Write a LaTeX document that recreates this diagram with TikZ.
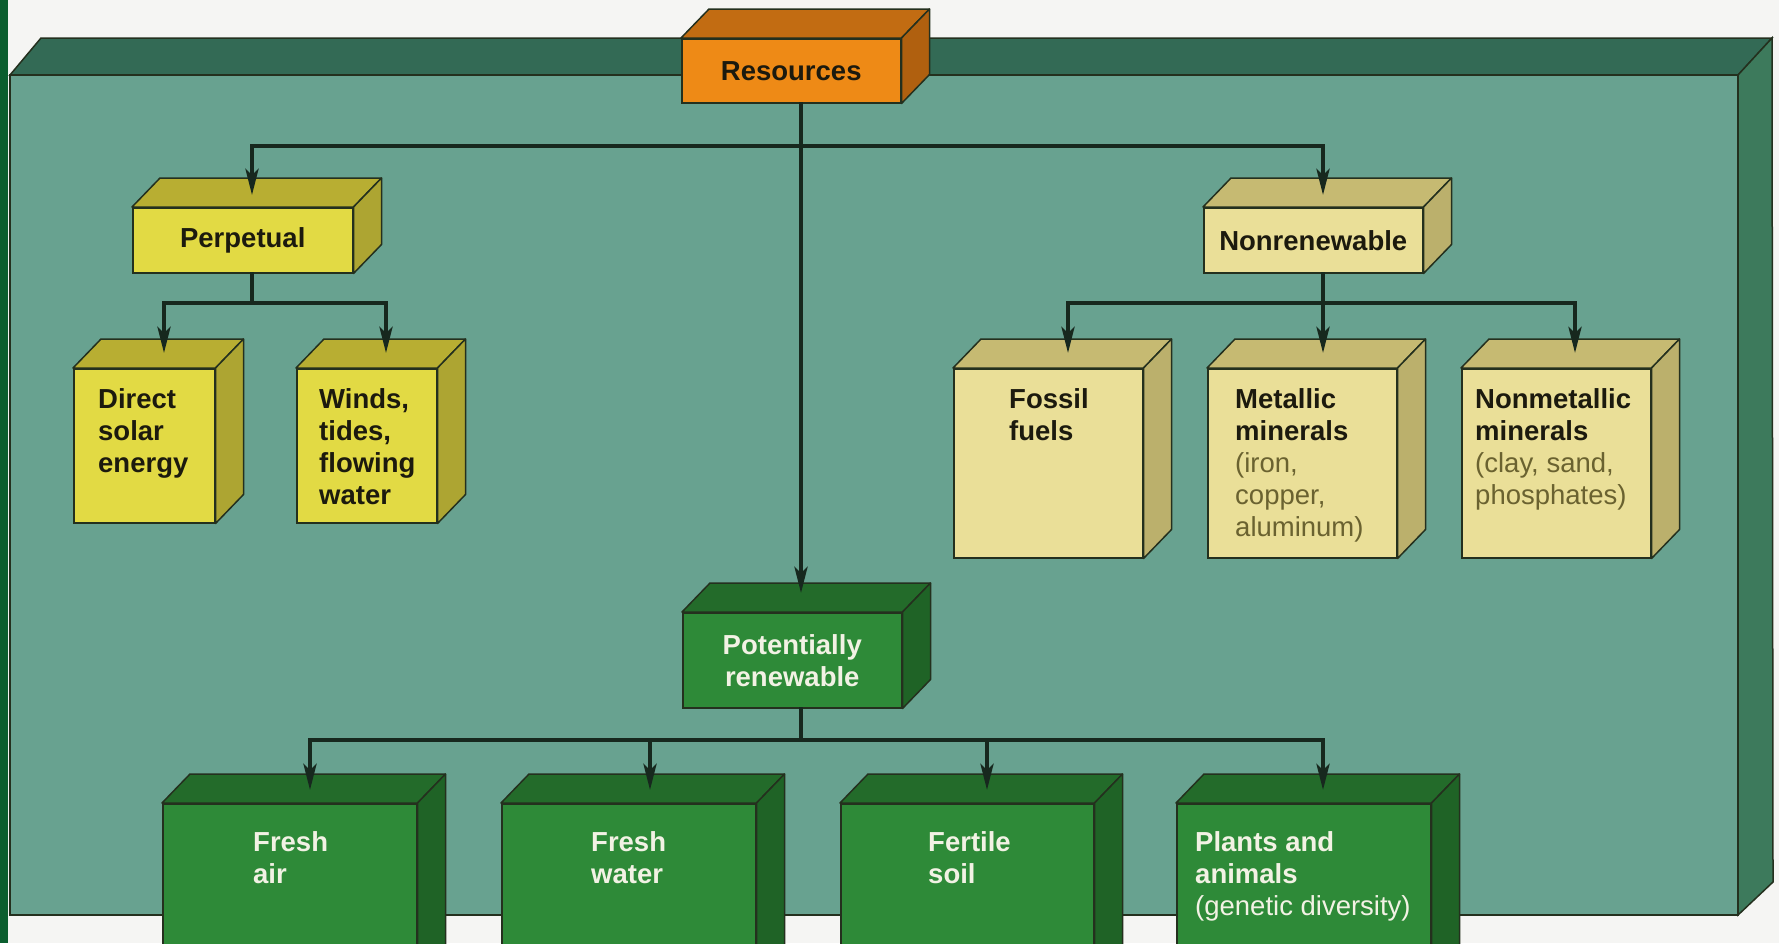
\documentclass[tikz,border=0pt]{standalone}
\usepackage{fontspec}
\setmainfont{Liberation Sans}
\usetikzlibrary{arrows.meta,calc}
\definecolor{boardfront}{HTML}{68A290}
\definecolor{boardtop}{HTML}{336A55}
\definecolor{boardside}{HTML}{3D7A5C}
\definecolor{stripcol}{HTML}{0B5E2E}
\definecolor{paper}{HTML}{F5F5F3}
\definecolor{orfront}{HTML}{EE8A16}
\definecolor{ortop}{HTML}{C26C12}
\definecolor{orside}{HTML}{B0600F}
\definecolor{yefront}{HTML}{E2DA44}
\definecolor{yetop}{HTML}{B8AE32}
\definecolor{yeside}{HTML}{ADA532}
\definecolor{pafront}{HTML}{EADF98}
\definecolor{patop}{HTML}{C6BA72}
\definecolor{paside}{HTML}{BBB06C}
\definecolor{grfront}{HTML}{2E8A38}
\definecolor{grtop}{HTML}{236B2A}
\definecolor{grside}{HTML}{1F6326}
\definecolor{edgecol}{HTML}{24301E}
\definecolor{wirecol}{HTML}{17281E}
\definecolor{darktext}{HTML}{1C1A0E}
\definecolor{lighttext}{HTML}{F2F2E4}
\definecolor{olivetext}{HTML}{6A6230}
\newcommand\solidbox[8]{%
  \node[face, fill=#6front, minimum width=#4pt, minimum height=#5pt, anchor=north west, #7] (#1) at (#2,#3) {#8};
  \filldraw[facedraw, fill=#6top] (#1.north west) -- ++(28,-29) -- ($(#1.north east)+(28,-29)$) -- (#1.north east) -- cycle;
  \filldraw[facedraw, fill=#6side] (#1.north east) -- ++(28,-29) -- ($(#1.south east)+(28,-29)$) -- (#1.south east) -- cycle;
}
\begin{document}
\begin{tikzpicture}[x=1pt,y=-1pt,
  face/.style={draw=edgecol, line width=1.5pt, inner sep=0pt, align=center},
  facedraw/.style={draw=edgecol, line width=1.5pt, line join=round},
  boardline/.style={draw=edgecol, line width=1.5pt},
  boxfont/.style={font=\fontsize{27.5}{32}\selectfont\bfseries},
  darkbox/.style={boxfont, text=darktext},
  lightbox/.style={boxfont, text=lighttext},
  boxtext/.style={inner sep=0pt, align=left, anchor=base west, font=\fontsize{27.5}{32}\selectfont},
  arrowline/.style={draw=wirecol, line width=4pt, -{Stealth[length=26pt,width=13pt,inset=6pt]}},
]
\useasboundingbox (0,0) rectangle (1779,943);
\clip (0,0) rectangle (1779,943);
\fill[paper] (0,0) rectangle (1779,943);
\fill[stripcol] (0,0) rectangle (8,943);
% board
\filldraw[boardline, fill=boardtop] (10,75) -- (41,38) -- (1772,38) -- (1738,75) -- cycle;
\filldraw[boardline, fill=boardside] (1738,75) -- (1772,38) -- (1773,882) -- (1738,915) -- cycle;
\filldraw[boardline, fill=boardfront] (10,75) rectangle (1738,915);

% boxes
\solidbox{res}{681}{38}{219}{64}{or}{darkbox}{Resources}
\solidbox{perp}{132}{207}{220}{65}{ye}{darkbox}{Perpetual}
\solidbox{nonr}{1203}{207}{219}{65}{pa}{darkbox}{Nonrenewable}
\solidbox{direct}{73}{368}{141}{154}{ye}{}{}
\solidbox{winds}{296}{368}{140}{154}{ye}{}{}
\solidbox{fossil}{953}{368}{189}{189}{pa}{}{}
\solidbox{metal}{1207}{368}{189}{189}{pa}{}{}
\solidbox{nonmet}{1461}{368}{189}{189}{pa}{}{}
\solidbox{pr}{682}{612}{219}{95}{gr}{lightbox}{Potentially\\renewable}
\solidbox{air}{162}{803}{254}{170}{gr}{}{}
\solidbox{water}{501}{803}{254}{170}{gr}{}{}
\solidbox{soil}{840}{803}{253}{170}{gr}{}{}
\solidbox{plants}{1176}{803}{254}{170}{gr}{}{}

% texts (anchored at the baseline of their last line)
\node[boxtext, text=darktext] (direct-t) at (98,472) {\bfseries Direct\\\bfseries solar\\\bfseries energy};
\node[boxtext, text=darktext] (winds-t) at (319,504) {\bfseries Winds,\\\bfseries tides,\\\bfseries flowing\\\bfseries water};
\node[boxtext, text=darktext] (fossil-t) at (1009,440) {\bfseries Fossil\\\bfseries fuels};
\node[boxtext, text=darktext] (metal-t) at (1235,536) {\bfseries Metallic\\\bfseries minerals\\\textcolor{olivetext}{(iron,}\\\textcolor{olivetext}{copper,}\\\textcolor{olivetext}{aluminum)}};
\node[boxtext, text=darktext] (nonmet-t) at (1475,504) {\bfseries Nonmetallic\\\bfseries minerals\\\textcolor{olivetext}{(clay, sand,}\\\textcolor{olivetext}{phosphates)}};
\node[boxtext, text=lighttext] (air-t) at (253,883) {\bfseries Fresh\\\bfseries air};
\node[boxtext, text=lighttext] (water-t) at (591,883) {\bfseries Fresh\\\bfseries water};
\node[boxtext, text=lighttext] (soil-t) at (928,883) {\bfseries Fertile\\\bfseries soil};
\node[boxtext, text=lighttext] (plants-t) at (1195,915) {\bfseries Plants and\\\bfseries animals\\(genetic diversity)};

% connector points
\coordinate (res-out) at (801,102);
\coordinate (perp-out) at (252,272);
\coordinate (nonr-out) at (1323,272);
\coordinate (pr-out) at (801,707);
\coordinate (bus1) at (0,146);
\coordinate (bus2) at (0,303);
\coordinate (bus3) at (0,740);
\coordinate (perp-in) at (252,195);
\coordinate (nonr-in) at (1323,195);
\coordinate (direct-in) at (164,353);
\coordinate (winds-in) at (386,353);
\coordinate (fossil-in) at (1068,353);
\coordinate (metal-in) at (1323,353);
\coordinate (nonmet-in) at (1575,353);
\coordinate (pr-in) at (801,593);
\coordinate (air-in) at (310,790);
\coordinate (water-in) at (650,790);
\coordinate (soil-in) at (987,790);
\coordinate (plants-in) at (1323,790);

% connectors
\draw[arrowline] (res-out) |- (bus1 -| perp-in) -- (perp-in);
\draw[arrowline] (res-out) |- (bus1 -| nonr-in) -- (nonr-in);
\draw[arrowline] (res-out) -- (pr-in);
\draw[arrowline] (perp-out) |- (bus2 -| direct-in) -- (direct-in);
\draw[arrowline] (perp-out) |- (bus2 -| winds-in) -- (winds-in);
\draw[arrowline] (nonr-out) |- (bus2 -| fossil-in) -- (fossil-in);
\draw[arrowline] (nonr-out) -- (metal-in);
\draw[arrowline] (nonr-out) |- (bus2 -| nonmet-in) -- (nonmet-in);
\draw[arrowline] (pr-out) |- (bus3 -| air-in) -- (air-in);
\draw[arrowline] (pr-out) |- (bus3 -| water-in) -- (water-in);
\draw[arrowline] (pr-out) |- (bus3 -| soil-in) -- (soil-in);
\draw[arrowline] (pr-out) |- (bus3 -| plants-in) -- (plants-in);
\end{tikzpicture}
\end{document}
